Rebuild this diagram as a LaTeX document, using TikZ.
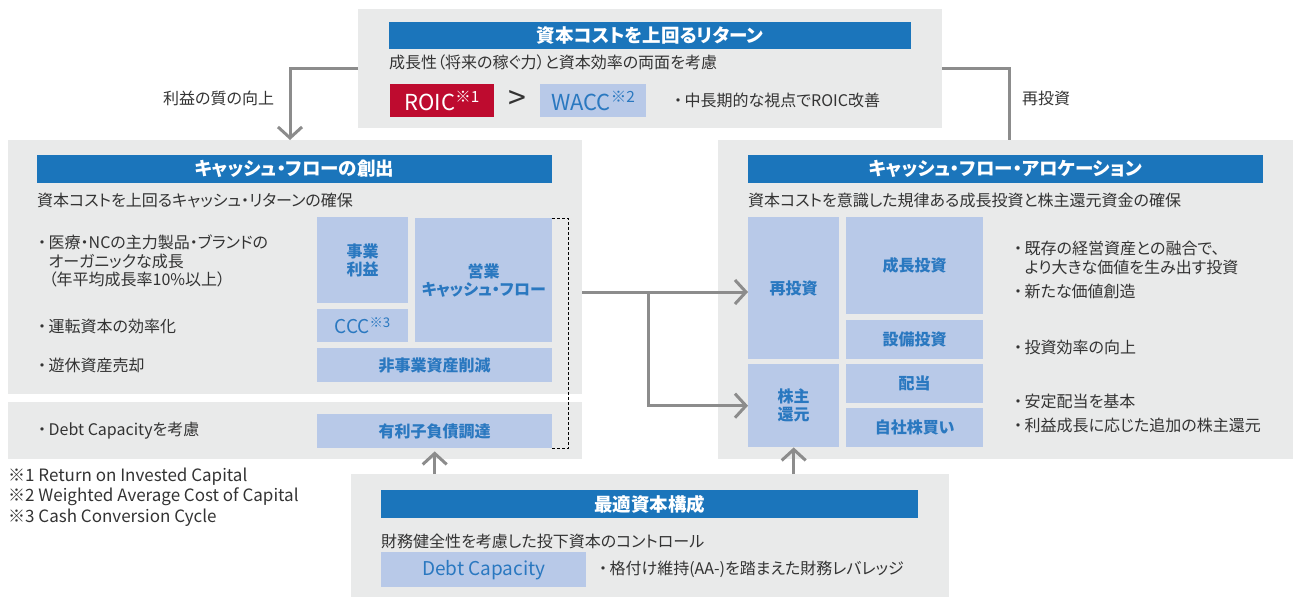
\documentclass[tikz,border=0pt]{standalone}
\usepackage{fontspec}
\setmainfont{Noto Sans CJK JP}[RawFeature=+palt]
\usetikzlibrary{arrows.meta}
\definecolor{bggray}{HTML}{E9EAEA}
\definecolor{hdblue}{HTML}{1B75BB}
\definecolor{ltblue}{HTML}{B8C9E8}
\definecolor{txblue}{HTML}{2A78C0}
\definecolor{roicred}{HTML}{BE0B2F}
\definecolor{argray}{HTML}{8C8C8C}
\definecolor{txdark}{HTML}{333333}
\newcommand{\bul}{・\hspace{2.5pt}}

\begin{document}
\begin{tikzpicture}[x=1pt,y=-1pt,
    wh/.style 2 args={minimum width=#1pt, minimum height=#2pt},
    panel/.style={fill=bggray, inner sep=0pt, anchor=north west},
    header/.style={fill=hdblue, text=white, inner sep=0pt, anchor=north west,
        font=\fontsize{18.5}{20}\selectfont\bfseries},
    cell/.style={fill=ltblue, text=txblue, inner sep=0pt, anchor=north west, align=center,
        font=\fontsize{16}{18}\selectfont\bfseries},
    body/.style={text=txdark, inner sep=0pt, anchor=west, align=left,
        font=\fontsize{16}{18.5}\selectfont},
    note/.style={body, font=\fontsize{17}{20}\selectfont},
    line/.style={draw=argray, line width=3pt},
    arr/.style={line, -{Straight Barb[length=11pt,width=24pt]}},
    ]
    \useasboundingbox (0,0) rectangle (1293,597);

    % 上：資本コストを上回るリターン
    \node[panel, wh={584}{119}] (topbg) at (358,9) {};
    \node[header, wh={522}{27}] (tophd) at (389,22) {資本コストを上回るリターン};
    \node[body] (topsub) at (389,62) {成長性（将来の稼ぐ力）と資本効率の両面を考慮};
    \node[fill=roicred, text=white, inner sep=0pt, anchor=north west, wh={104}{33},
        font=\fontsize{22}{22}\selectfont] (roic) at (390,84) {ROIC\textsuperscript{※1}};
    \node[text=txdark, inner sep=0pt, font=\fontsize{32}{32}\selectfont] (gt) at (517,100) {>};
    \node[fill=ltblue, text=txblue, inner sep=0pt, anchor=north west, wh={106}{33},
        font=\fontsize{22}{22}\selectfont] (wacc) at (540,84) {WACC\textsuperscript{※2}};
    \node[body] (topb) at (674,100) {\bul 中長期的な視点でROIC改善};

    % 左：キャッシュ・フローの創出
    \node[panel, wh={574}{254}] (leftbg) at (8,140) {};
    \node[header, wh={515}{28}] (lefthd) at (37,155) {キャッシュ・フローの創出};
    \node[body] (leftsub) at (37,200) {資本コストを上回るキャッシュ・リターンの確保};
    \node[cell, wh={91}{86}] (jigyo) at (317,217) {事業\\利益};
    \node[cell, wh={137}{124}] (eigyo) at (415,218) {営業\\キャッシュ・フロー};
    \node[cell, wh={91}{33}, font=\fontsize{19}{19}\selectfont] (ccc) at (317,309) {CCC\textsuperscript{※3}};
    \node[cell, wh={235}{34}] (hiji) at (317,348) {非事業資産削減};
    \node[body] (l1) at (38,261) {\bul 医療・NCの主力製品・ブランドの\\\hphantom{\bul}オーガニックな成長\\\hphantom{\bul}（年平均成長率10\%以上）};
    \node[body] (l2) at (38,326) {\bul 運転資本の効率化};
    \node[body] (l3) at (38,365) {\bul 遊休資産売却};

    \node[panel, wh={574}{57}] (debtbg) at (8,402) {};
    \node[cell, wh={235}{34}] (yuri) at (317,414) {有利子負債調達};
    \node[body] (l4) at (38,431) {\bul Debt Capacityを考慮};
    \draw[black, line width=0.8pt, dash pattern=on 3pt off 2pt]
        (eigyo.north east) -- ++(16,0) |- (yuri.south east);

    % 注記
    \node[note] (n1) at (8,477) {※1 Return on Invested Capital};
    \node[note] (n2) at (8,497) {※2 Weighted Average Cost of Capital};
    \node[note] (n3) at (8,518) {※3 Cash Conversion Cycle};

    % 右：キャッシュ・フロー・アロケーション
    \node[panel, wh={575}{319}] (rightbg) at (718,140) {};
    \node[header, wh={515}{28}] (righthd) at (748,155) {キャッシュ・フロー・アロケーション};
    \node[body] (rightsub) at (748,200) {資本コストを意識した規律ある成長投資と株主還元資金の確保};
    \node[cell, wh={91}{142}] (reinv) at (748,217) {再投資};
    \node[cell, wh={137}{97}] (seicho) at (846,217) {成長投資};
    \node[cell, wh={137}{39}] (setsubi) at (846,320) {設備投資};
    \node[cell, wh={91}{83}] (kabu) at (748,364) {株主\\還元};
    \node[cell, wh={137}{39}] (haito) at (846,364) {配当};
    \node[cell, wh={137}{39}] (jisha) at (846,408) {自社株買い};
    \node[body] (r1) at (1014,258) {\bul 既存の経営資産との融合で、\\\hphantom{\bul}より大きな価値を生み出す投資};
    \node[body] (r2) at (1014,291) {\bul 新たな価値創造};
    \node[body] (r3) at (1014,347) {\bul 投資効率の向上};
    \node[body] (r4) at (1014,401) {\bul 安定配当を基本};
    \node[body] (r5) at (1014,425) {\bul 利益成長に応じた追加の株主還元};

    % 下：最適資本構成
    \node[panel, wh={598}{123}] (botbg) at (351,474) {};
    \node[header, wh={537}{28}] (bothd) at (381,490) {最適資本構成};
    \node[body] (botsub) at (381,541) {財務健全性を考慮した投下資本のコントロール};
    \node[fill=ltblue, text=txblue, inner sep=0pt, anchor=north west, wh={205}{35},
        font=\fontsize{19}{19}\selectfont] (dcap) at (381,552) {Debt Capacity};
    \node[body] (botb) at (599,569) {\bul 格付け維持(AA-)を踏まえた財務レバレッジ};

    % 矢印
    \coordinate (q1) at (290,140);
    \coordinate (q2) at (1009,140);
    \coordinate (q3) at (648,292);
    \draw[arr] (topbg.west) -| (q1);
    \draw[line] (topbg.east) -| (q2);
    \node[body] (lab1) at (163,98) {利益の質の向上};
    \node[body] (lab2) at (1022,98) {再投資};
    \draw[arr] (leftbg.east |- q3) -- (reinv.west |- q3);
    \draw[arr] (q3) |- (kabu.west);
    \draw[arr, shorten >=3pt] (yuri.south |- botbg.north) -- (yuri.south);
    \draw[arr] (kabu.south |- botbg.north) -- (kabu.south);
\end{tikzpicture}
\end{document}
